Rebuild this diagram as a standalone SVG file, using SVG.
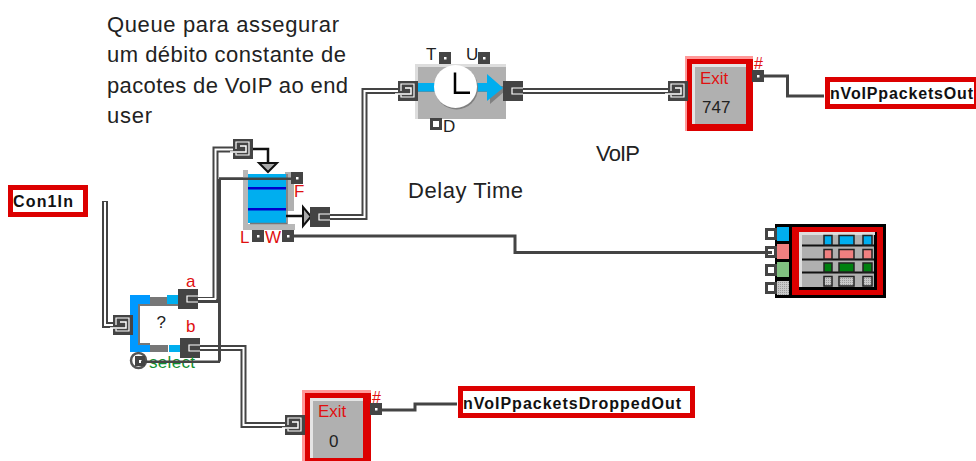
<svg xmlns="http://www.w3.org/2000/svg" width="976" height="461" viewBox="0 0 976 461">
<defs>
<style>
text{font-family:"Liberation Sans",Arial,sans-serif}
.note{font-size:22px;fill:#222}
.red{font-size:17px;fill:#e01010}
.lab{font-size:17px;fill:#222}
.tag{font-size:16px;font-weight:bold;fill:#111}
.box{fill:#fff;stroke:#dc0000;stroke-width:5}
.wo{fill:none;stroke:#444;stroke-width:6}
.wi{fill:none;stroke:#fff;stroke-width:2}
.ln{fill:none;stroke:#444;stroke-width:3}
.bk{fill:none;stroke:#111;stroke-width:2.5}
.ph{fill:#fff;stroke:#444;stroke-width:3}
.tri{fill:#aaa;stroke:#111;stroke-width:2}
</style>
<g id="portL"><rect width="20" height="20" fill="#444"/><path d="M3 10V3H16V16H3V14" fill="none" stroke="#fff" stroke-width="1.2"/><path d="M-3 13H13V7H7" fill="none" stroke="#fff" stroke-width="1.5"/></g>
<g id="portR"><rect width="20" height="20" fill="#444"/><path d="M20 7H9V13H20" fill="none" stroke="#fff" stroke-width="1.2"/></g>
<g id="pin"><rect width="12" height="12" fill="#444"/><rect x="5" y="5" width="2.5" height="2.5" fill="#fff"/></g>
<g id="hpin"><rect x="1.5" y="1.5" width="9" height="9" class="ph"/></g>
<pattern id="dith" width="2" height="2" patternUnits="userSpaceOnUse"><rect width="2" height="2" fill="#c8c8c8"/><rect width="1" height="1" fill="#999"/></pattern>
</defs>

<g id="connectors">
<path class="wo" d="M105 201V325H125"/><path class="wi" d="M105 202V325H125"/>
<path class="wo" d="M190 300H215.500V149.500H245"/><path class="wi" d="M190 299H215.500V149.500H245"/>
<path class="wo" d="M190 348H243.500V425H297"/><path class="wi" d="M190 348H243.500V425H297"/>
<path class="wo" d="M320 217H364.500V91H410"/><path class="wi" d="M320 217H364.500V91H410"/>
<path class="wo" d="M513 91H678"/><path class="wi" d="M513 91H678"/>
<path d="M219.500 361.500V179" fill="none" stroke="#444" stroke-width="3"/>
<path d="M219 178.700H297M216 300.500H220" fill="none" stroke="#444" stroke-width="2.500"/>
<path class="bk" d="M245 149H268V164"/>
<path class="ln" d="M294 236H515V252.500H772"/>
<path class="ln" d="M764 76H787.500V96H824"/>
<path class="ln" d="M382 410H415V404H457"/>
</g>

<g id="switch">
<rect x="138" y="304" width="42" height="40" fill="#fff"/>
<path d="M130 295H150V304H140V344H150V352H130Z" fill="#0099ff"/>
<rect x="150" y="297" width="17" height="7" fill="#777"/><rect x="167" y="295" width="12" height="9" fill="#00aeef"/>
<rect x="150" y="345" width="18" height="7" fill="#777"/><rect x="169" y="345" width="12" height="7" fill="#00aeef"/>
<path d="M179 305H139V344H150" fill="none" stroke="#777" stroke-width="2"/>
<text x="156.500" y="328" class="lab">?</text>
<use href="#portL" x="113" y="315"/>
<use href="#portR" x="178" y="289"/>
<use href="#portR" x="180" y="338"/>
<text x="186" y="287" class="red">a</text>
<text x="186" y="332" class="red">b</text>
<circle cx="138.500" cy="360.500" r="7.500" fill="none" stroke="#555" stroke-width="2.500"/>
<rect x="135" y="356" width="10" height="10" fill="#444"/><rect x="139" y="360" width="3" height="3" fill="#fff"/>
<text x="149" y="368" font-size="17" fill="#109030" textLength="46">select</text>
<path d="M141 361.700H220" stroke="#444" stroke-width="2.500"/>
</g>

<g id="queue">
<path d="M243 170H248V224H295V230H243Z" fill="#b8b8b8"/>
<rect x="285" y="172" width="9" height="39" fill="#b0b0b0"/>
<rect x="248" y="174" width="38" height="49" fill="#00aeef"/>
<path d="M250 223.500H287V174" fill="none" stroke="#777" stroke-width="1.500"/>
<rect x="248" y="187" width="38" height="2.500" fill="#0000cc"/><rect x="248" y="208" width="38" height="2.500" fill="#0000cc"/>
<path d="M219 178.700H297" stroke="#444" stroke-width="2.500"/>
<path class="tri" d="M259 163H277L268 172Z"/>
<path class="bk" d="M286 216H303"/>
<path class="tri" d="M303 207V226L311 216.500Z"/>
<use href="#pin" x="291" y="172"/><use href="#pin" x="252" y="230"/><use href="#pin" x="282" y="230"/>
<text x="294" y="197" class="red">F</text><text x="240" y="243" class="red">L</text><text x="265" y="243" class="red">W</text>
<use href="#portL" x="233" y="139"/>
<use href="#portR" x="310" y="207"/>
</g>

<g id="delay">
<rect x="415" y="64" width="91" height="55" fill="#b0b0b0"/>
<path d="M415 119V64H506V67H418V119Z" fill="#ddd"/>
<rect x="418" y="86" width="85" height="6" fill="#808080"/>
<rect x="418" y="83" width="70" height="8.500" fill="#00aeef"/>
<path d="M490 77L505 91L490 104Z" fill="#808080"/>
<path d="M487 74L503 88L487 101Z" fill="#00aeef"/>
<circle cx="456.500" cy="88" r="21.500" fill="#808080"/>
<circle cx="455.500" cy="86.500" r="21.500" fill="#fff"/>
<path d="M455 72.500V92.800H470" fill="none" stroke="#000" stroke-width="2.500"/>
<use href="#pin" x="439" y="52"/><use href="#pin" x="478" y="52"/><use href="#hpin" x="430" y="118"/>
<text x="426" y="60" class="lab">T</text><text x="466" y="60" class="lab">U</text><text x="443" y="132" class="lab">D</text>
<use href="#portL" x="398" y="81"/>
<use href="#portR" x="503" y="81"/>
</g>

<g id="exit1">
<rect x="685" y="56" width="68" height="75" fill="#ff9999"/>
<rect x="687" y="59" width="66" height="72" fill="#dc0000"/>
<rect x="692" y="64" width="54" height="60" fill="#b0b0b0"/>
<path d="M692 124V64H746V67H695V124Z" fill="#e4e4e4"/>
<text x="700" y="84" class="red">Exit</text>
<text x="702" y="113" class="lab">747</text>
<use href="#portL" x="668" y="81"/>
<use href="#pin" x="752" y="70"/>
<text x="754" y="69" font-size="16" fill="#e01010">#</text>
</g>

<g id="exit2">
<rect x="302" y="390" width="69" height="71" fill="#ff9999"/>
<rect x="305" y="393" width="66" height="68" fill="#dc0000"/>
<rect x="310" y="398" width="53" height="60" fill="#b0b0b0"/>
<path d="M310 458V398H363V401H313V458Z" fill="#e4e4e4"/>
<text x="318" y="417" class="red">Exit</text>
<text x="329" y="447" class="lab">0</text>
<use href="#portL" x="285" y="415"/>
<use href="#pin" x="370" y="403"/>
<text x="372" y="403" font-size="16" fill="#e01010">#</text>
</g>

<g id="monitor">
<rect x="775" y="224" width="111" height="74" fill="#000"/>
<rect x="777" y="227" width="12" height="14" fill="#00aeef"/>
<rect x="777" y="244" width="12" height="15" fill="#f08080"/>
<rect x="777" y="262" width="12" height="15" fill="#80c080"/>
<rect x="777" y="281" width="12" height="14" fill="url(#dith)"/>
<rect x="792" y="227" width="91" height="68" fill="#dc0000"/>
<rect x="799" y="232" width="78" height="58" fill="#000"/>
<rect x="799" y="232" width="75" height="55" fill="#b0b0b0"/>
<path d="M799 287V232H875V235H802V287Z" fill="#ddd"/>
<path d="M802 245.500H874M802 259.500H874M802 272.500H874" stroke="#111" stroke-width="2"/>
<g stroke="#222" stroke-width="1.500">
<rect x="824" y="235.500" width="8" height="9.500" fill="#00aeef"/><rect x="839" y="235.500" width="15" height="9.500" fill="#00aeef"/><rect x="863" y="235.500" width="9" height="9.500" fill="#00aeef"/>
<rect x="824" y="249.500" width="8" height="9.500" fill="#f08080"/><rect x="839" y="249.500" width="15" height="9.500" fill="#f08080"/><rect x="863" y="249.500" width="9" height="9.500" fill="#f08080"/>
<rect x="824" y="263" width="8" height="9" fill="#008010"/><rect x="839" y="263" width="15" height="9" fill="#008010"/><rect x="863" y="263" width="9" height="9" fill="#008010"/>
<rect x="824" y="276.500" width="8" height="9.500" fill="url(#dith)"/><rect x="839" y="276.500" width="15" height="9.500" fill="url(#dith)"/><rect x="863" y="276.500" width="9" height="9.500" fill="url(#dith)"/>
</g>
<use href="#hpin" x="765" y="228"/><use href="#hpin" x="765" y="246"/><use href="#hpin" x="765" y="264"/><use href="#hpin" x="765" y="282"/>
<path d="M750 252.500H772" stroke="#444" stroke-width="3"/>
</g>

<g id="con1in"><rect x="10.500" y="187.500" width="75" height="27" class="box"/><text x="13" y="207" class="tag" textLength="60">Con1In</text></g>
<g id="voipout"><rect x="827.500" y="79.500" width="149" height="27" class="box"/><text x="830" y="99" class="tag" textLength="143">nVoIPpacketsOut</text></g>
<g id="dropout"><rect x="460.500" y="388.500" width="232" height="27" class="box"/><text x="463" y="409" class="tag" textLength="218">nVoIPpacketsDroppedOut</text></g>

<g id="notes">
<text x="107" y="31.500" class="note" textLength="232">Queue para assegurar</text>
<text x="107" y="62" class="note" textLength="239">um débito constante de</text>
<text x="107" y="92.500" class="note" textLength="241">pacotes de VoIP ao end</text>
<text x="107" y="123" class="note" textLength="45">user</text>
<text x="596" y="161" class="note" textLength="44">VoIP</text>
<text x="408" y="198" class="note" textLength="115">Delay Time</text>
</g>
</svg>
